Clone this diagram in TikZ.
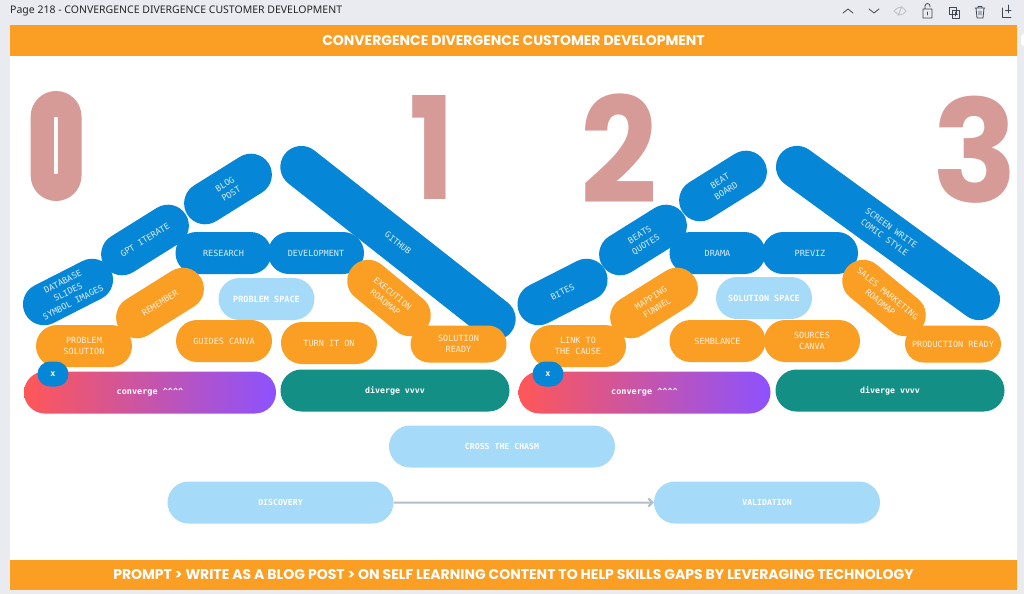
\documentclass[tikz,border=0pt]{standalone}
\usepackage{fontspec}
\usetikzlibrary{shapes.misc,arrows.meta}
\setmainfont{Poppins}
\newfontfamily\monof{DejaVu Sans Mono}
\newfontfamily\uif{Noto Sans}
\definecolor{pageg}{HTML}{E9EBF0}
\definecolor{orangeb}{HTML}{FB9E24}
\definecolor{blueb}{HTML}{0586D6}
\definecolor{lightb}{HTML}{A5DBF8}
\definecolor{teal2}{HTML}{148F86}
\definecolor{rosed}{HTML}{D69A97}
\definecolor{gradl}{HTML}{FF5757}
\definecolor{gradr}{HTML}{8C52FF}
\definecolor{arrowg}{HTML}{B3BFC6}
\definecolor{icong}{HTML}{3F4650}
\tikzset{
 pill/.style={rounded rectangle,minimum width=96pt,minimum height=42pt,inner sep=0pt,align=center,text=white,
   font=\monof\fontsize{8.5}{11.5}\selectfont},
 bluepill/.style={pill,fill=blueb,text=white!85!blueb},
 orangepill/.style={pill,fill=orangeb,text=white!85!orangeb},
 lightpill/.style={pill,fill=lightb,font=\monof\bfseries\fontsize{8.5}{11}\selectfont},
 widepill/.style={pill,fill=lightb,minimum width=226pt,font=\monof\bfseries\fontsize{8.2}{10}\selectfont},
 conv/.style={pill,minimum width=252pt,left color=gradl,right color=gradr,font=\monof\bfseries\fontsize{8.5}{11}\selectfont},
 div/.style={pill,minimum width=229pt,fill=teal2,font=\monof\bfseries\fontsize{8.3}{11}\selectfont},
 xmark/.style={pill,minimum width=31pt,minimum height=25pt,fill=blueb,font=\monof\bfseries\fontsize{8.5}{11}\selectfont},
 digit/.style={text=rosed,inner sep=0pt,font=\bfseries\fontsize{150}{150}\selectfont},
 band/.style={fill=orangeb,minimum width=1007pt,minimum height=30.5pt,inner sep=0pt,text=white},
 icon/.style={draw=icong,line width=.8pt,line cap=round,line join=round},
}
\begin{document}
\begin{tikzpicture}[x=1pt,y=-1pt]
\useasboundingbox (0,0) rectangle (1024,594);
\fill[pageg] (0,0) rectangle (1024,594);
\fill[white] (10,25) rectangle (1017,590);
\fill[white] (1024,34) -- (1023,34) -- (1021,36) -- (1021,44) -- (1023,46) -- (1024,46) -- cycle;
\node[band,font=\bfseries\fontsize{14}{15}\selectfont] (top) at (513.5,40.5) {CONVERGENCE DIVERGENCE CUSTOMER DEVELOPMENT};
\node[band,font=\bfseries\fontsize{14}{15}\selectfont] (bot) at (513.5,575) {PROMPT > WRITE AS A BLOG POST > ON SELF LEARNING CONTENT TO HELP SKILLS GAPS BY LEVERAGING TECHNOLOGY};
\node[anchor=west,inner sep=0pt,text=black!85,font=\uif\bfseries\fontsize{10.5}{12}\selectfont] (pagetitle) at (10,11) {Page 218 - CONVERGENCE DIVERGENCE CUSTOMER DEVELOPMENT};
% toolbar icons
\draw[icon] (843,13) -- (848,9) -- (853,13);
\draw[icon] (869,9) -- (874,13) -- (879,9);
\draw[icon,draw=icong!35] (894,11) .. controls (898,6) and (903,6) .. (906,11) .. controls (903,16) and (898,16) .. (894,11) (902,6) -- (898,16);
\draw[icon] (923,9) rectangle (932,18) (925,9) -- (925,6) arc (180:0:2.5pt) -- (930,7) (927.5,12) -- (927.5,15);
\draw[icon] (949,7) rectangle (956,14) (952,10) rectangle (959,18) (955.5,12) -- (955.5,16) (953.5,14) -- (957.5,14);
\draw[icon] (975,8) -- (985,8) (978,8) -- (978,6.5) -- (982,6.5) -- (982,8) (976,8) -- (977,18) -- (983,18) -- (984,8) (979,11) -- (979,15) (981,11) -- (981,15);
\draw[icon] (1002,8) -- (1002,17) -- (1011,17) (1008,8) -- (1008,13) (1005.5,10) -- (1011,10) (1008,5) -- (1008,8);
% digits
\node[digit,xscale=.53,yscale=.9] (d0) at (56,146) {0};
\fill[rosed,even odd rule,rounded corners=25.4pt] (30.7,91) rectangle (81.5,201)
  [rounded corners=2pt] (53.8,111) rectangle (57.8,180);
\node[digit,xscale=.8,yscale=.95] (d1) at (432,147.5) {1};
\node[digit,xscale=.9,yscale=.98] (d2) at (619.5,149) {2};
\node[digit,xscale=.94,yscale=.95] (d3) at (975.5,149.5) {3};
% left group
\node[bluepill,rotate=32] (blog) at (228,189) {BLOG\\POST};
\node[bluepill,rotate=32] (gpt) at (145,240) {GPT ITERATE};
\node[bluepill,rotate=27] (db) at (68,292) {DATABASE\\SLIDES\\SYMBOL IMAGES};
\node[bluepill,minimum width=288pt,rotate=-38.2] (github) at (398,243) {GITHUB};
\node[bluepill] (research) at (223.5,253) {RESEARCH};
\node[bluepill] (develop) at (316,253) {DEVELOPMENT};
\node[orangepill,rotate=32] (remember) at (160,303) {REMEMBER};
\node[lightpill] (pspace) at (266.5,299) {PROBLEM SPACE};
\node[orangepill,rotate=-39.6] (exec) at (389,298) {EXECUTION\\ROADMAP};
\node[orangepill] (psol) at (84,346) {PROBLEM\\SOLUTION};
\node[orangepill] (guides) at (224,341) {GUIDES CANVA};
\node[orangepill] (turn) at (329,343) {TURN IT ON};
\node[orangepill,minimum height=37pt] (sready) at (458.5,344) {SOLUTION\\READY};
\node[conv] (conv1) at (150,392.5) {converge \^{}\^{}\^{}\^{}};
\node[div] (div1) at (395,390.5) {diverge vvvv};
\node[xmark] (x1) at (53,374) {x};
% right group
\node[bluepill,rotate=32] (beat) at (723,186) {BEAT\\BOARD};
\node[bluepill,rotate=32] (beats) at (643,240) {BEATS\\QUOTES};
\node[bluepill,rotate=27] (bites) at (562.5,292) {BITES};
\node[bluepill,minimum width=267pt,rotate=-36] (screen) at (888,233) {SCREEN WRITE\\COMIC STYLE};
\node[bluepill] (drama) at (717.5,253) {DRAMA};
\node[bluepill] (previz) at (810,253) {PREVIZ};
\node[orangepill,rotate=32] (mapping) at (654,303) {MAPPING\\FUNNEL};
\node[lightpill] (sspace) at (764,298) {SOLUTION SPACE};
\node[orangepill,rotate=-39.6] (sales) at (884,298) {SALES MARKETING\\ROADMAP};
\node[orangepill] (link) at (578,346) {LINK TO\\THE CAUSE};
\node[orangepill] (semb) at (717.5,341) {SEMBLANCE};
\node[orangepill] (sources) at (812,341) {SOURCES\\CANVA};
\node[orangepill,minimum height=37pt] (prod) at (953,344) {PRODUCTION READY};
\node[conv] (conv2) at (644.5,392.5) {converge \^{}\^{}\^{}\^{}};
\node[div] (div2) at (890,390.5) {diverge vvvv};
\node[xmark] (x2) at (548,374) {x};
% bottom
\node[widepill] (chasm) at (502,446.5) {CROSS THE CHASM};
\node[widepill] (disc) at (280.5,502.5) {DISCOVERY};
\node[widepill] (valid) at (767,502.5) {VALIDATION};
\draw[arrowg,line width=2pt,-{Straight Barb[length=4pt,width=8pt]}] (disc) -- (valid);
\end{tikzpicture}
\end{document}
